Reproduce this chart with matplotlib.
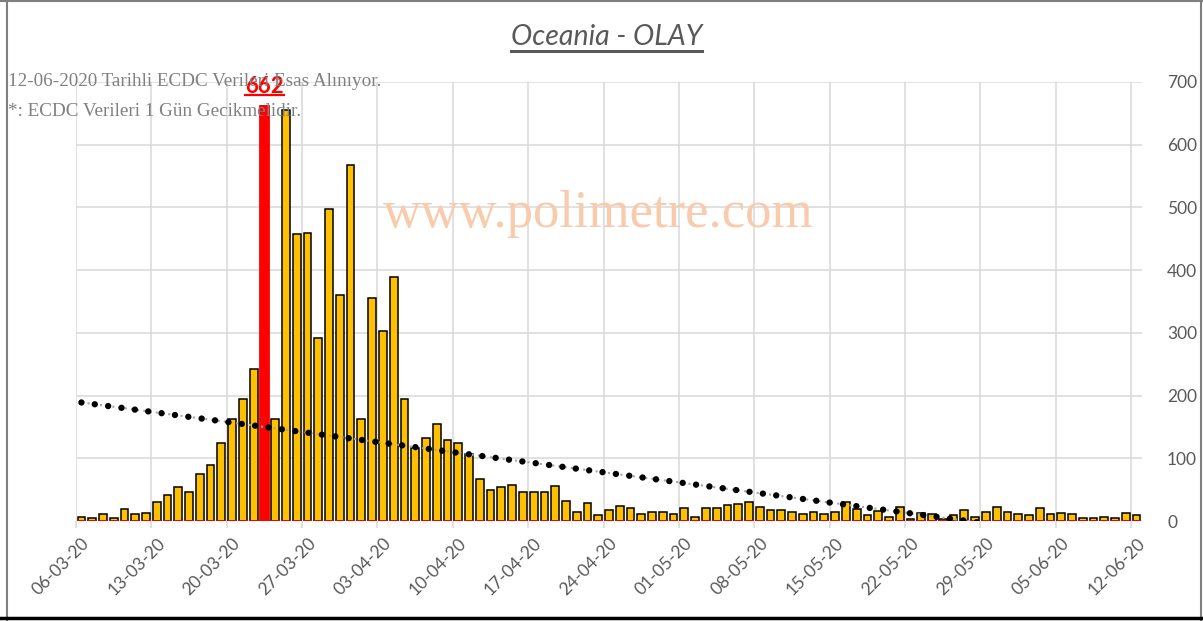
import numpy as np
import matplotlib.pyplot as plt
from matplotlib.lines import Line2D

plt.rcParams['font.family'] = ['Lato', 'DejaVu Sans']

# Günlük vaka sayıları, 06-03-2020 .. 12-06-2020 (99 gün)
cases = [
    7, 4, 11, 4, 19, 11, 13, 30, 41, 54,
    47, 75, 90, 124, 163, 195, 242, 662, 163, 655,
    458, 460, 292, 498, 361, 567, 163, 355, 303, 389,
    194, 116, 133, 155, 129, 124, 107, 67, 49, 54,
    58, 47, 46, 46, 56, 32, 15, 28, 9, 18,
    24, 20, 11, 15, 15, 11, 20, 7, 20, 20,
    25, 27, 31, 22, 18, 18, 15, 11, 15, 11,
    15, 30, 19, 9, 16, 7, 22, 3, 13, 11,
    3, 10, 18, 7, 14, 22, 14, 11, 9, 20,
    11, 13, 11, 5, 5, 7, 5, 12, 10,
]
tick_labels = ['06-03-20', '13-03-20', '20-03-20', '27-03-20', '03-04-20',
               '10-04-20', '17-04-20', '24-04-20', '01-05-20', '08-05-20',
               '15-05-20', '22-05-20', '29-05-20', '05-06-20', '12-06-20']
# doğrusal eğilim çizgisi (uç noktalar)
trend_x = [0, 98]
trend_y = [189, -36]

n = len(cases)
x = np.arange(n)
max_i = int(np.argmax(cases))
max_series = [v if i == max_i else 0 for i, v in enumerate(cases)]

fig = plt.figure(figsize=(12.03, 6.21), dpi=100)
ax = fig.add_axes([76 / 1203, 100 / 621, 1066 / 1203, 439 / 621])

grid_c = '#d9d9d9'
tick_pos = np.arange(0, n, 7)

ax.bar(x, cases, width=0.72, color='#FFC000', edgecolor='black', linewidth=1.1, zorder=3)
ax.bar(x, max_series, width=0.86, color='#FF0000', edgecolor='#FF0000', linewidth=1.3, zorder=4)

# eğilim çizgisi
ax.plot(trend_x, trend_y, color='#a6a6a6', lw=1.5, linestyle=(0, (1, 2)), zorder=5)
ax.plot(trend_x, trend_y, color='black', lw=4.6, linestyle=(0, (0.01, 2.1)),
        dash_capstyle='round', zorder=6)

ax.set_xlim(-0.5, n - 0.5)
ax.set_ylim(0, 700)

ax.set_xticks(tick_pos)
ax.set_xticklabels(tick_labels, rotation=45, ha='right', rotation_mode='anchor',
                   fontsize=12.5, color='#595959')
ax.tick_params(axis='x', length=0, pad=10)
ax.set_xticks(tick_pos - 0.5, minor=True)
ax.tick_params(axis='x', which='minor', length=5, color=grid_c, width=1.1)
ax.grid(True, axis='x', which='minor', color=grid_c, lw=1.1, zorder=0)

ax.yaxis.tick_right()
ax.set_yticks(range(0, 701, 100))
ax.tick_params(axis='y', length=0, pad=18, labelsize=12.5, labelcolor='#595959')
ax.grid(True, axis='y', which='major', color=grid_c, lw=1.1, zorder=0)
ax.set_axisbelow(True)
for s in ax.spines.values():
    s.set_visible(False)

# tepe değeri etiketi
ax.text(max_i, 676, str(cases[max_i]), ha='center', va='bottom', color='#FF0000',
        fontsize=16, fontweight='bold', zorder=7)

ax.text(0.49, 0.70, 'www.polimetre.com', transform=ax.transAxes, ha='center',
        va='center', fontsize=38, color='#F8CBAD', family='Liberation Serif', zorder=2)

fig.text(8 / 1203, 1 - 81 / 621, '12-06-2020 Tarihli ECDC Verileri Esas Alınıyor.',
         ha='left', va='center', fontsize=13.8, color='#808080', family='Liberation Serif')
fig.text(8 / 1203, 1 - 112 / 621, '*: ECDC Verileri 1 Gün Gecikmelidir.',
         ha='left', va='center', fontsize=13.8, color='#808080', family='Liberation Serif')

title = fig.text(0.504, 1 - 37 / 621, 'Oceania - OLAY', ha='center', va='center',
                 fontsize=20.5, style='italic', color='#595959')

# çerçeve
fig.add_artist(Line2D([7 / 1203, 7 / 1203], [0, 1], color='#7f7f7f', lw=1.5))
fig.add_artist(Line2D([1201 / 1203, 1201 / 1203], [0, 1], color='#7f7f7f', lw=1.5))
fig.add_artist(Line2D([0, 1], [1 - 1 / 621, 1 - 1 / 621], color='#7f7f7f', lw=1.5))
fig.add_artist(Line2D([0, 1], [3 / 621, 3 / 621], color='black', lw=2.5))

# altı çizili başlık ve etiket
fig.canvas.draw()
r = fig.canvas.get_renderer()
bb = title.get_window_extent(r).transformed(fig.transFigure.inverted())
fig.add_artist(Line2D([bb.x0, bb.x1], [bb.y0 - 0.002, bb.y0 - 0.002], color='#595959', lw=2.2))
lbl = ax.texts[0]
bb = lbl.get_window_extent(r).transformed(fig.transFigure.inverted())
fig.add_artist(Line2D([bb.x0, bb.x1], [bb.y0 + 0.004, bb.y0 + 0.004], color='#FF0000', lw=1.6))

fig.savefig('out.png', dpi=100)
